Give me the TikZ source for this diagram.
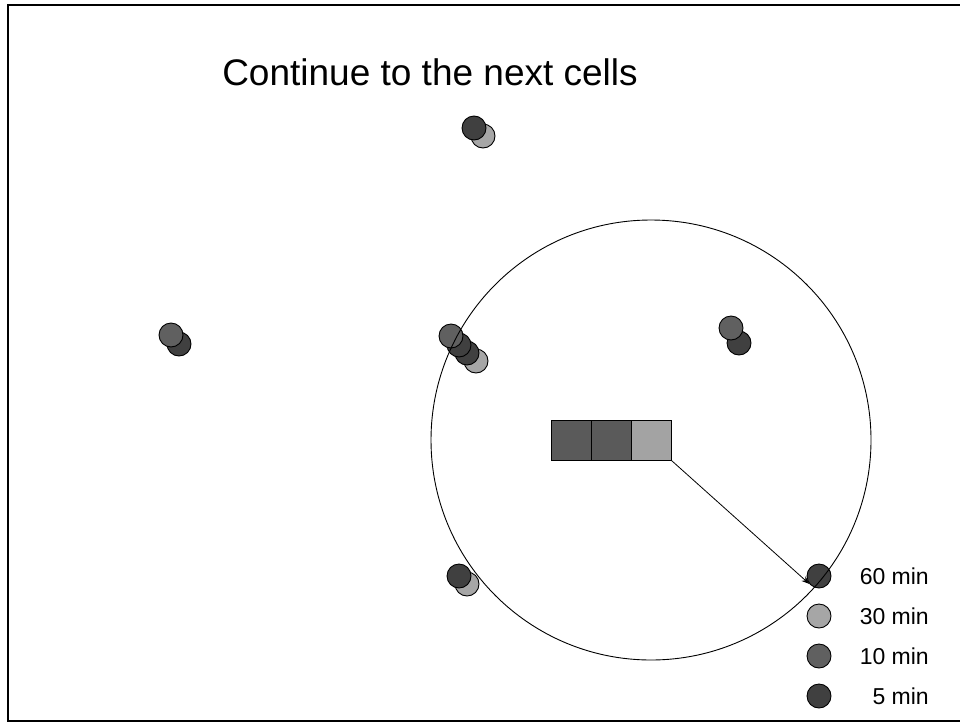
\documentclass[tikz,border=0pt]{standalone}
\usepackage{fontspec}
\setmainfont{Liberation Sans}
\usetikzlibrary{arrows.meta}
\definecolor{cdark}{HTML}{404040}
\definecolor{cgray}{HTML}{606060}
\definecolor{clight}{HTML}{A6A6A6}
\definecolor{sqdark}{HTML}{5A5A5A}
\definecolor{sqlight}{HTML}{A3A3A3}
\tikzset{
  dot/.style={circle,draw=black,line width=0.9pt,minimum size=24pt,inner sep=0pt},
  dark/.style={dot,fill=cdark},
  gray/.style={dot,fill=cgray},
  light/.style={dot,fill=clight},
  sq/.style={draw=black,line width=1pt,minimum size=40pt,inner sep=0pt},
  lbl/.style={anchor=east,font=\fontsize{23}{27}\selectfont,inner sep=0pt},
}
\begin{document}
\begin{tikzpicture}[x=1pt,y=-1pt]
\useasboundingbox (0,0) rectangle (960,723);
\fill[white] (0,0) rectangle (960,723);
\draw[line width=2pt] (970,5) -- (8,5) -- (8,721) -- (970,721);
\node[anchor=base,font=\fontsize{37}{44}\selectfont,inner sep=0pt] (title) at (430,85) {Continue to the next cells};
% top pair
\node[light] (a2) at (483,136) {};
\node[dark] (a1) at (474,128) {};
% left pair
\node[dark] (b2) at (179,344) {};
\node[gray] (b1) at (171,335) {};
% middle group
\node[light] (c4) at (476,361) {};
\node[dark] (c3) at (467,353) {};
\node[dark] (c2) at (459,345) {};
\node[gray] (c1) at (451,336) {};
% right pair
\node[dark] (d2) at (739,343) {};
\node[gray] (d1) at (731,328) {};
% bottom pair
\node[light] (e2) at (467,584) {};
\node[dark] (e1) at (459,576) {};
% squares
\node[sq,fill=sqdark] (s1) at (571,440) {};
\node[sq,fill=sqdark] (s2) at (611,440) {};
\node[sq,fill=sqlight] (s3) at (651,440) {};
% legend
\node[dark] (l60) at (819,576) {};
\node[light] (l30) at (819,616) {};
\node[gray] (l10) at (819,656) {};
\node[dark] (l5) at (819,696) {};
\node[lbl] (t60) at (929,576) {60 min};
\node[lbl] (t30) at (929,616) {30 min};
\node[lbl] (t10) at (929,656) {10 min};
\node[lbl] (t5) at (929,696) {5 min};
% big circle
\node[circle,draw=black,line width=0.9pt,minimum size=440pt,inner sep=0pt] (big) at (651,440) {};
% arrow
\draw[line width=0.8pt,-{Stealth[length=8pt,width=6pt]}] (s3.south east) -- (l60.220);
\end{tikzpicture}
\end{document}
